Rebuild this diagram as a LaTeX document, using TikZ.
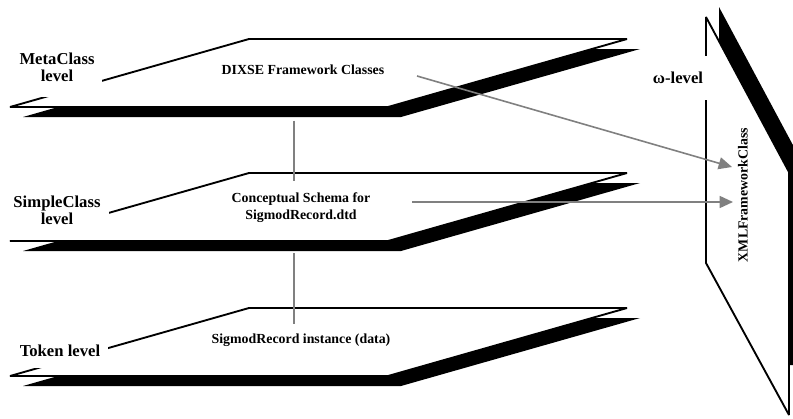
\documentclass[tikz,border=0pt]{standalone}
\usepackage{fontspec}
\setmainfont{Liberation Serif}
\usetikzlibrary{arrows.meta, positioning}

\begin{document}
\begin{tikzpicture}[x=0.75pt, y=-0.75pt,
    plane/.style={fill=white, draw=black, line width=1.4pt, miter limit=4},
    level/.style={fill=white, font=\bfseries\fontsize{12.5}{13}\selectfont, align=center, inner xsep=6pt, inner ysep=11.5pt},
    caption/.style={font=\bfseries\fontsize{10.4}{12.75}\selectfont, align=center},
    link/.style={gray, line width=1.2pt},
    flow/.style={gray, line width=1.2pt, -{Triangle[length=10pt, width=9pt]}}]

    \useasboundingbox (0,0) rectangle (793,418);
    \clip (0,0) rectangle (793,418);

    % MetaClass level
    \begin{scope}[shift={(0,39)}]
        % shadow first, plane on top
        \fill[black] (23,78) -- (401,78) -- (640,10) -- (262,10) -- cycle;
        \draw[plane] (10,68) -- (388,68) -- (627,0) -- (249,0) -- cycle;

        \node[level] (meta) at (57,28) {MetaClass\\level};
        \node[caption] (dixse) at (303,31) {DIXSE Framework Classes};
    \end{scope}

    % SimpleClass level
    \begin{scope}[shift={(0,173)}]
        \fill[black] (23,78) -- (401,78) -- (640,10) -- (262,10) -- cycle;
        \draw[plane] (10,68) -- (388,68) -- (627,0) -- (249,0) -- cycle;

        \node[level] (simple) at (57,37) {SimpleClass\\level};
        \node[caption] (schema) at (301,35) {Conceptual Schema for\\SigmodRecord.dtd};
    \end{scope}

    % Token level
    \begin{scope}[shift={(0,308)}]
        \fill[black] (23,78) -- (401,78) -- (640,10) -- (262,10) -- cycle;
        \draw[plane] (10,68) -- (388,68) -- (627,0) -- (249,0) -- cycle;

        \node[level, inner ysep=8pt] (token) at (60,43) {Token level};
        \node[caption] (instance) at (301,32) {SigmodRecord instance (data)};
    \end{scope}

    % omega level panel
    \fill[black] (719,7) -- (802,162) -- (802,365) -- (789,365) -- (719,250) -- cycle;
    \draw[plane] (706,17) -- (789,172) -- (789,415) -- (706,263) -- cycle;
    \node[level, inner xsep=5pt, inner ysep=12pt] (omega) at (678,78) {ω-level};
    \node[caption, rotate=90] (xml) at (743,195) {XMLFrameworkClass};

    % instance-of links between the levels
    \coordinate (spine) at (294,0);
    \draw[link, shorten <=38pt, shorten >=20pt] (spine |- dixse) -- (spine |- schema);
    \draw[link, shorten <=34pt, shorten >=12pt] (spine |- schema) -- (spine |- instance);

    % arrows into the framework class
    \coordinate (dixse-out) at (417,76);
    \coordinate (schema-out) at (412,202);
    \coordinate (xml-in-a) at (732,167);
    \coordinate (xml-in-b) at (733,202);
    \draw[flow] (dixse-out) -- (xml-in-a);
    \draw[flow] (schema-out) -- (xml-in-b);

\end{tikzpicture}
\end{document}
